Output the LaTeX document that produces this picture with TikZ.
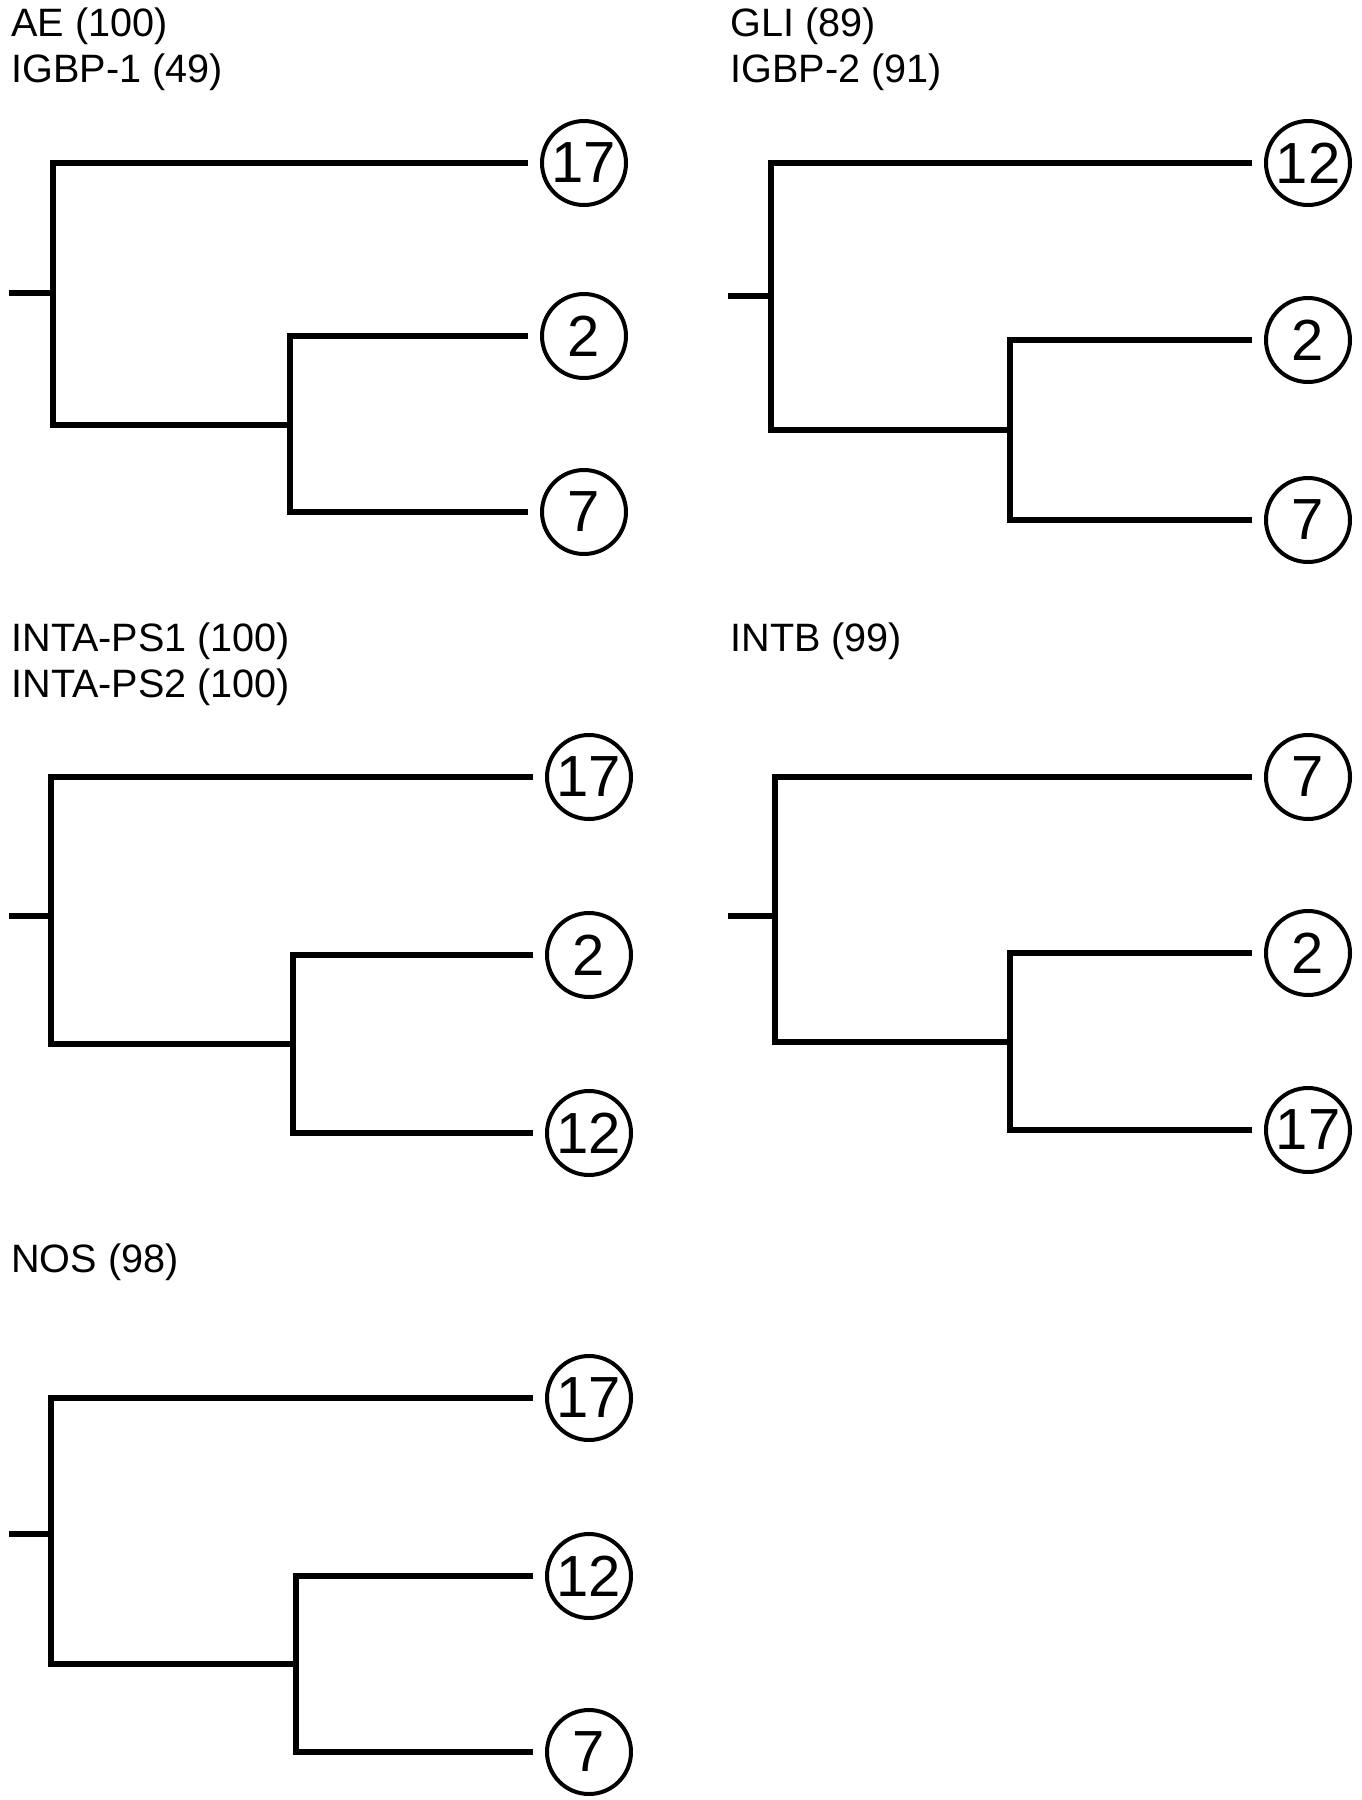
\documentclass[tikz,border=0pt]{standalone}
\usepackage{fontspec}
\setmainfont{Liberation Sans}
\begin{document}
\begin{tikzpicture}[x=0.5pt,y=-0.5pt,
  branch/.style={line width=2.8pt, line join=miter, shorten <=6pt},
  branchb/.style={branch, shorten >=6pt},
  stub/.style={line width=2.8pt},
  leaf/.style={circle, draw, line width=2pt, minimum size=42pt, inner sep=0pt, font=\fontsize{29}{32}\selectfont},
  title/.style={anchor=base west, inner sep=0pt, font=\fontsize{19.8}{22}\selectfont}]
\useasboundingbox[fill=white] (0,0) rectangle (1361,1800);

% ---- Panel A
\node[title] (At1) at (11,36) {AE (100)};
\node[title] (At2) at (11,82) {IGBP-1 (49)};
\node[leaf] (A1) at (584,163) {17};
\node[leaf] (A2) at (584,336) {2};
\node[leaf] (A3) at (584,512) {7};
\coordinate (Ar) at (9,293);
\coordinate (Ax) at (53,293);
\coordinate (Ay) at (290,425);
\draw[stub] (Ar) -- (Ax);
\draw[branch] (A1) -| (Ax) |- (Ay);
\draw[branchb] (A2) -| (Ay) |- (A3);

% ---- Panel B
\node[title] (Bt1) at (730,36) {GLI (89)};
\node[title] (Bt2) at (730,82) {IGBP-2 (91)};
\node[leaf] (B1) at (1308,163) {12};
\node[leaf] (B2) at (1308,340) {2};
\node[leaf] (B3) at (1308,520) {7};
\coordinate (Br) at (728,296);
\coordinate (Bx) at (771,296);
\coordinate (By) at (1010,430);
\draw[stub] (Br) -- (Bx);
\draw[branch] (B1) -| (Bx) |- (By);
\draw[branchb] (B2) -| (By) |- (B3);

% ---- Panel C
\node[title] (Ct1) at (11,651) {INTA-PS1 (100)};
\node[title] (Ct2) at (11,697) {INTA-PS2 (100)};
\node[leaf] (C1) at (589,777) {17};
\node[leaf] (C2) at (589,955) {2};
\node[leaf] (C3) at (589,1133) {12};
\coordinate (Cr) at (9,916);
\coordinate (Cx) at (51,916);
\coordinate (Cy) at (293,1044);
\draw[stub] (Cr) -- (Cx);
\draw[branch] (C1) -| (Cx) |- (Cy);
\draw[branchb] (C2) -| (Cy) |- (C3);

% ---- Panel D
\node[title] (Dt1) at (730,651) {INTB (99)};
\node[leaf] (D1) at (1308,777) {7};
\node[leaf] (D2) at (1308,953) {2};
\node[leaf] (D3) at (1308,1130) {17};
\coordinate (Dr) at (728,916);
\coordinate (Dx) at (775,916);
\coordinate (Dy) at (1010,1042);
\draw[stub] (Dr) -- (Dx);
\draw[branch] (D1) -| (Dx) |- (Dy);
\draw[branchb] (D2) -| (Dy) |- (D3);

% ---- Panel E
\node[title] (Et1) at (11,1272) {NOS (98)};
\node[leaf] (E1) at (589,1398) {17};
\node[leaf] (E2) at (589,1576) {12};
\node[leaf] (E3) at (589,1752) {7};
\coordinate (Er) at (9,1534);
\coordinate (Ex) at (51,1534);
\coordinate (Ey) at (296,1664);
\draw[stub] (Er) -- (Ex);
\draw[branch] (E1) -| (Ex) |- (Ey);
\draw[branchb] (E2) -| (Ey) |- (E3);
\end{tikzpicture}
\end{document}
